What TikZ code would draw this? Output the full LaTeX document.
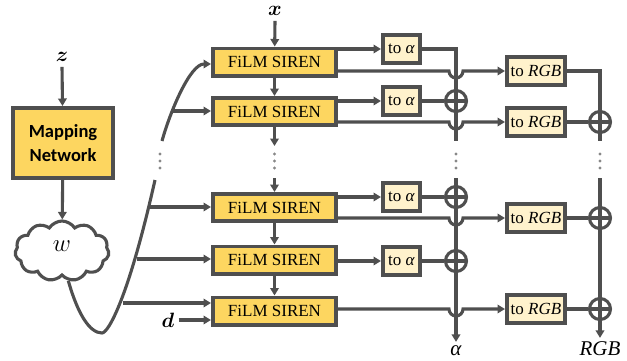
\documentclass[tikz,border=0pt]{standalone}
\usepackage{fontspec}
\setmainfont{Liberation Serif}
\newfontfamily\carlito{Carlito}
\usepackage{amsmath,bm}
\usetikzlibrary{shapes.symbols,arrows.meta}
\definecolor{ln}{HTML}{4F4F4F}
\definecolor{yel}{HTML}{FDD660}
\definecolor{lyel}{HTML}{FFF2CC}
\definecolor{dotc}{HTML}{888888}
\begin{document}
\begin{tikzpicture}[x=1pt,y=-1pt,
  line/.style={draw=ln,line width=3.1pt},
  arr/.style={line,-{Triangle[length=7.5pt,width=8.5pt]}},
  boxbase/.style={draw=ln,line width=3.6pt,inner sep=0pt},
  film/.style={boxbase,fill=yel,minimum width=123.4pt,minimum height=27.4pt,font=\fontsize{17}{20}\selectfont},
  toa/.style={boxbase,fill=lyel,minimum width=37.4pt,minimum height=28.4pt,font=\fontsize{17}{20}\selectfont},
  torgb/.style={boxbase,fill=lyel,minimum width=58.4pt,minimum height=28.4pt,font=\fontsize{17}{20}\selectfont},
  mapbox/.style={boxbase,fill=yel,minimum width=100.4pt,minimum height=70.4pt,align=center,font=\carlito\bfseries\fontsize{18.5}{24}\selectfont},
  oplus/.style={circle,draw=ln,line width=3.1pt,fill=white,minimum size=21pt,inner sep=0pt,
     path picture={\draw[ln,line width=3.1pt] (path picture bounding box.west) -- (path picture bounding box.east)
        (path picture bounding box.north) -- (path picture bounding box.south);}},
  lbl/.style={inner sep=0pt,font=\fontsize{21}{24}\selectfont},
  dotsty/.style={fill=dotc}
]
\useasboundingbox (0,0) rectangle (627,360);

% labels
\node[lbl] (zl) at (62,57) {$\bm{z}$};
\node[lbl] (xl) at (275,11) {$\bm{x}$};
\node[lbl] (dl) at (168,320) {$\bm{d}$};
\node[lbl,anchor=base] (al) at (456,355) {\textit{α}};
\node[lbl,anchor=base] (rgbl) at (600,355) {\textit{RGB}};

% mapping network and cloud
\node[mapbox] (map) at (63,143) {Mapping\\Network};
\node[cloud,cloud puffs=11,cloud puff arc=115,aspect=1.6,draw=ln,line width=3.1pt,fill=white,
      minimum width=94pt,minimum height=60pt,inner sep=0pt] (w) at (62,251) {};
\node[font=\fontsize{27}{28}\selectfont] (wl) at (62,246) {$w$};
\draw[arr] ([yshift=-5pt]zl.south) -- (map);
\draw[arr] (map) -- (w);

% FiLM SIREN blocks
\node[film] (f1) at (274.5,62) {FiLM SIREN};
\node[film] (f2) at (274.5,111.5) {FiLM SIREN};
\node[film] (f3) at (274.5,207.5) {FiLM SIREN};
\node[film] (f4) at (274.5,260) {FiLM SIREN};
\node[film] (f5) at (274.5,311) {FiLM SIREN};
\draw[arr] ([yshift=-5pt]xl.south) -- (f1);
\draw[arr] (f1) -- (f2);
\coordinate (c2) at (274.5,146);
\coordinate (c3) at (274.5,178);
\draw[arr] (f2) -- (c2);
\draw[arr] (c3) -- (f3);
\draw[arr] (f3) -- (f4);
\draw[arr] (f4) -- (f5);

% w curve
\coordinate (m1) at (102,333);
\coordinate (e1) at (155,180);
\coordinate (s2) at (162,141);
\coordinate (e2) at (211,64);
\draw[line] (w.-78) .. controls (78,315) and (90,333) .. (m1)
   .. controls (108,333) and (128,300) .. (e1);
\draw[arr] (s2) .. controls (170,112) and (190,64) .. (e2);
\coordinate (b2) at (173,111);
\coordinate (b3) at (150,207);
\coordinate (b4) at (137,259);
\coordinate (b5) at (123,303);
\draw[arr] (b2) -- (b2 -| f2.west);
\draw[arr] (b3) -- (b3 -| f3.west);
\draw[arr] (b4) -- (b4 -| f4.west);
\draw[arr] (b5) -- (b5 -| f5.west);
\draw[arr] (dl.east) ++(4pt,0) -- (dl.east -| f5.west);

% to alpha boxes
\node[toa] (a1) at (401.5,49) {to \textit{α}};
\node[toa] (a2) at (401.5,101) {to \textit{α}};
\node[toa] (a3) at (401.5,197) {to \textit{α}};
\node[toa] (a4) at (401.5,261) {to \textit{α}};
\draw[arr] (f1.east |- a1) -- (a1);
\draw[arr] (f2.east |- a2) -- (a2);
\draw[arr] (f3.east |- a3) -- (a3);
\draw[arr] (f4.east |- a4) -- (a4);

% alpha accumulation line
\coordinate (at) at (456,49);
\coordinate (ab) at (456,141);
\coordinate (ar) at (456,178);
\draw[line] (a1.east) -- (at) -- (ab);
\draw[arr] (ar) -- ([yshift=3pt]al.north);
\node[oplus] (p2) at (456,101) {};
\node[oplus] (p3) at (456,197) {};
\node[oplus] (p4) at (456,261) {};
\draw[line] (a2) -- (p2);
\draw[line] (a3) -- (p3);
\draw[line] (a4) -- (p4);

% to RGB boxes
\node[torgb] (r1) at (536,71) {to \textit{RGB}};
\node[torgb] (r2) at (536,122) {to \textit{RGB}};
\node[torgb] (r3) at (536,218) {to \textit{RGB}};
\node[torgb] (r4) at (536,309) {to \textit{RGB}};
\draw[arr] (f1.east |- r1) -- (449,71) arc[start angle=180,end angle=360,radius=7pt] -- (r1);
\draw[arr] (f2.east |- r2) -- (449,122) arc[start angle=180,end angle=360,radius=7pt] -- (r2);
\draw[arr] (f3.east |- r3) -- (449,218) arc[start angle=180,end angle=360,radius=7pt] -- (r3);
\draw[arr] (f5.east |- r4) -- (449,309) arc[start angle=180,end angle=360,radius=7pt] -- (r4);

% RGB accumulation line
\coordinate (rt) at (600,71);
\coordinate (rb) at (600,141);
\coordinate (rr) at (600,178);
\draw[line] (r1.east) -- (rt) -- (rb);
\draw[arr] (rr) -- ([yshift=3pt]rgbl.north);
\node[oplus] (q2) at (600,122) {};
\node[oplus] (q3) at (600,218) {};
\node[oplus] (q4) at (600,309) {};
\draw[line] (r2) -- (q2);
\draw[line] (r3) -- (q3);
\draw[line] (r4) -- (q4);

% vertical dots
\foreach \xx in {160,274.5,456,600}{
  \foreach \yy in {154,161,168}{
    \fill[dotsty] (\xx,\yy) circle[radius=1.6pt];
  }
}
\end{tikzpicture}
\end{document}
